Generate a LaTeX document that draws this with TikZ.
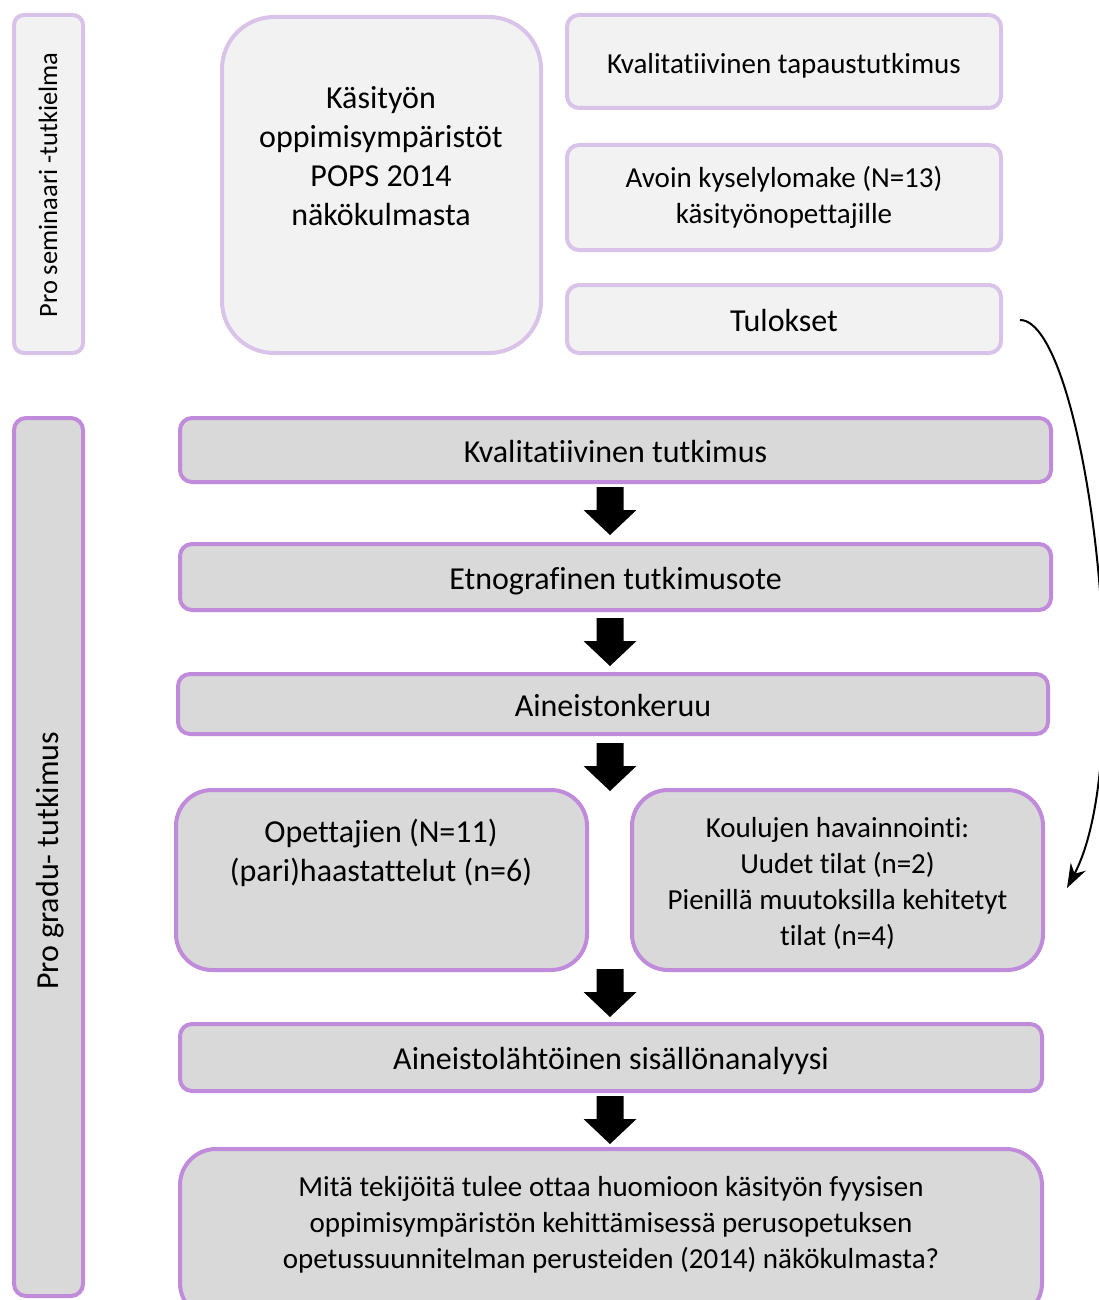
\documentclass[tikz,border=0pt]{standalone}
\usepackage{fontspec}
\setmainfont[Ligatures={NoCommon,NoRare,NoContextual},RawFeature={-liga;-clig;-calt;-dlig}]{Carlito}
\usetikzlibrary{calc,arrows.meta}
\definecolor{lpurp}{HTML}{D9C3E9}
\definecolor{dpurp}{HTML}{BF8BDA}
\definecolor{lgray}{HTML}{F2F2F2}
\definecolor{dgray}{HTML}{D9D9D9}
\begin{document}
\begin{tikzpicture}[x=1pt,y=-1pt,
  topbox/.style={draw=lpurp, fill=lgray, line width=4pt, rounded corners=12pt, inner sep=0pt},
  botbox/.style={draw=dpurp, fill=dgray, line width=4pt, rounded corners=12pt, inner sep=0pt},
  big/.style={font=\fontsize{32}{39}\selectfont, align=center},
  small/.style={font=\fontsize{29}{36}\selectfont, align=center},
  oneline/.style={text height=24pt, text depth=0pt},
  blockarr/.pic={\fill[black] (-13.5,-24) -- (13.5,-24) -- (13.5,-1) -- (26.5,-1) -- (0,24) -- (-26.5,-1) -- (-13.5,-1) -- cycle;},
]
\useasboundingbox (0,0) rectangle (1099,1300);
\clip (0,0) rectangle (1099,1300);

% --- Pro seminaari part
\node[topbox, rounded corners=10pt, minimum width=69pt, minimum height=338pt] (sem) at (48.5,184) {};
\node[rotate=90, font=\fontsize{26.5}{32}\selectfont] (semT) at (48,185) {Pro seminaari -tutkielma};
\node[topbox, rounded corners=52pt, minimum width=319pt, minimum height=336pt] (kas) at (381.5,185) {};
\node[big] (kasT) at (381,156.5) {Käsityön\\oppimisympäristöt\\POPS 2014\\näkökulmasta};
\node[topbox, small, oneline, minimum width=434pt, minimum height=93pt] (tap) at (784,61.5) {Kvalitatiivinen tapaustutkimus};
\node[topbox, small, minimum width=434pt, minimum height=105pt] (avo) at (784,197.5) {Avoin kyselylomake (N=13)\\käsityönopettajille};
\node[topbox, big, oneline, minimum width=434pt, minimum height=68pt] (tul) at (784,319) {Tulokset};

% --- Pro gradu part
\node[botbox, minimum width=69pt, minimum height=878pt] (gra) at (48.5,857) {};
\node[rotate=90, big] (graT) at (50,861) {Pro gradu- tutkimus};
\node[botbox, big, oneline, minimum width=871pt, minimum height=64pt] (k1) at (615.5,450) {Kvalitatiivinen tutkimus};
\node[botbox, big, oneline, minimum width=871pt, minimum height=66pt] (k2) at (615.5,577) {Etnografinen tutkimusote};
\node[botbox, big, oneline, minimum width=870pt, minimum height=60pt] (k3) at (613,704) {Aineistonkeruu};
\node[botbox, rounded corners=36pt, minimum width=411pt, minimum height=180pt] (ope) at (381.5,880) {};
\node[big] (opeT) at (381,853) {Opettajien (N=11)\\(pari)haastattelut (n=6)};
\node[botbox, rounded corners=36pt, small, minimum width=411pt, minimum height=180pt] (kou) at (837.5,880) {};
\node[small] (kouT) at (837.5,883) {Koulujen havainnointi:\\Uudet tilat (n=2)\\Pienillä muutoksilla kehitetyt\\tilat (n=4)};
\node[botbox, big, oneline, minimum width=862pt, minimum height=67pt] (k4) at (611,1057.5) {Aineistolähtöinen sisällönanalyysi};
\node[botbox, rounded corners=36pt, minimum width=862pt, minimum height=170pt] (q) at (611,1234) {};
\node[small] (qT) at (611,1225) {Mitä tekijöitä tulee ottaa huomioon käsityön fyysisen\\oppimisympäristön kehittämisessä perusopetuksen\\opetussuunnitelman perusteiden (2014) näkökulmasta?};

% --- block arrows
\coordinate (ax) at (610,0);
\coordinate (m1) at ($(k1.south)!.5!(k2.north)+(0,-2)$);
\coordinate (m2) at ($(k2.south)!.5!(k3.north)$);
\coordinate (m3) at ($(k3.south)!.5!(ope.north)+(0,5)$);
\coordinate (m4) at ($(ope.south)!.5!(k4.north)+(0,-4)$);
\coordinate (m5) at ($(k4.south)!.5!(q.north)$);
\pic at (ax |- m1) {blockarr};
\pic at (ax |- m2) {blockarr};
\pic at (ax |- m3) {blockarr};
\pic at (ax |- m4) {blockarr};
\pic at (ax |- m5) {blockarr};

% --- curved arrow
\coordinate (cs) at ($(tul.east)+(17,1)$);
\coordinate (ce) at ($(kou.east)+(22,8)$);
\draw[line width=2pt, -{Stealth[length=24pt,width=17pt]}] (cs) .. controls (1085,320) and (1140,750) .. (ce);
\end{tikzpicture}
\end{document}
